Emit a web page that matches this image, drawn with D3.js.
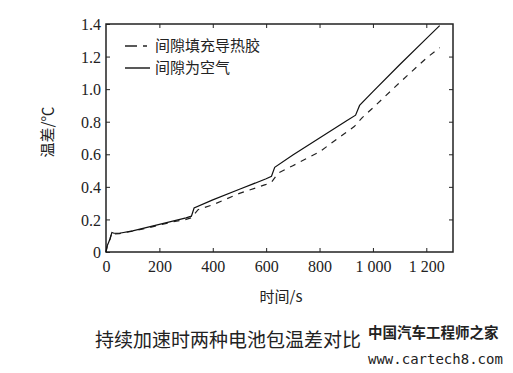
<!DOCTYPE html>
<html>
<head>
<meta charset="utf-8">
<script src="https://cdn.jsdelivr.net/npm/d3@7"></script>
<style>
  body { margin: 0; background: #fff; }
  svg text { fill: #222; }
  .tick text { font-family: "Liberation Serif", "DejaVu Serif", serif !important; font-size: 16px !important; }
</style>
</head>
<body>
<div id="chart"></div>
<script>
// values
const timeAir = [0, 5, 15, 22, 30, 50, 100, 150, 200, 250, 300, 320, 330, 400, 500, 600, 620, 632, 700, 800, 900, 935, 950, 1000, 1100, 1200, 1250];
const tempAir = [0, 0.04, 0.08, 0.12, 0.115, 0.115, 0.13, 0.15, 0.17, 0.19, 0.21, 0.22, 0.27, 0.32, 0.385, 0.45, 0.465, 0.52, 0.595, 0.70, 0.805, 0.84, 0.90, 0.985, 1.15, 1.31, 1.39];

const timeGel = [0, 5, 15, 22, 30, 50, 100, 150, 200, 250, 300, 320, 345, 400, 500, 600, 620, 645, 700, 800, 900, 930, 960, 1000, 1100, 1200, 1250];
const tempGel = [0, 0.04, 0.08, 0.12, 0.11, 0.113, 0.128, 0.145, 0.165, 0.185, 0.2, 0.21, 0.26, 0.29, 0.36, 0.415, 0.428, 0.485, 0.53, 0.615, 0.735, 0.77, 0.825, 0.885, 1.04, 1.19, 1.255];

const xTicks = [0, 200, 400, 600, 800, 1000, 1200];
const yTicks = [0, 0.2, 0.4, 0.6, 0.8, 1.0, 1.2, 1.4];
const legendNames = ["间隙填充导热胶", "间隙为空气"];

const W = 513, H = 373;
const margin = { top: 24, right: 60, bottom: 121, left: 106 };
const iw = W - margin.left - margin.right;
const ih = H - margin.top - margin.bottom;

const svg = d3.select("#chart").append("svg")
    .attr("width", W)
    .attr("height", H);

const g = svg.append("g").attr("transform", `translate(${margin.left},${margin.top})`);

const x = d3.scaleLinear().domain([0, 1300]).range([0, iw]);
const y = d3.scaleLinear().domain([0, 1.4]).range([ih, 0]);

const cjk = "'Noto Sans CJK SC', sans-serif";

const fmtX = d => d >= 1000 ? "1 " + String(d).slice(1) : String(d);
const fmtY = d => d === 0 ? "0" : d.toFixed(1);

// axes - all ticks point inside the box
const xAxis = g.append("g").attr("transform", `translate(0,${ih})`)
    .call(d3.axisBottom(x).tickValues(xTicks).tickFormat(fmtX).tickSizeInner(-4).tickSizeOuter(0).tickPadding(9));
const yAxis = g.append("g")
    .call(d3.axisLeft(y).tickValues(yTicks).tickFormat(fmtY).tickSizeInner(-4).tickSizeOuter(0).tickPadding(5));
g.append("g")
    .call(d3.axisTop(x).tickValues(xTicks.slice(1)).tickFormat("").tickSizeInner(-4).tickSizeOuter(0));
g.append("g").attr("transform", `translate(${iw},0)`)
    .call(d3.axisRight(y).tickValues(yTicks.slice(1, -1)).tickFormat("").tickSizeInner(-4).tickSizeOuter(0));

g.selectAll(".domain").remove();
g.selectAll(".tick line").attr("stroke", "#222").attr("stroke-width", 1);
xAxis.attr("font-family", "Liberation Serif").attr("font-size", 16);
yAxis.attr("font-family", "Liberation Serif").attr("font-size", 16);
g.selectAll(".tick text").attr("fill", "#222");
yAxis.selectAll(".tick text").attr("dy", "0.35em");

g.append("rect")
    .attr("width", iw).attr("height", ih)
    .attr("fill", "none").attr("stroke", "#222").attr("stroke-width", 1.5);

const line = d3.line().x(d => x(d[0])).y(d => y(d[1]));

g.append("path")
    .datum(d3.zip(timeGel, tempGel))
    .attr("d", line)
    .attr("fill", "none").attr("stroke", "#222").attr("stroke-width", 1.2)
    .attr("stroke-dasharray", "6,6");

g.append("path")
    .datum(d3.zip(timeAir, tempAir))
    .attr("d", line)
    .attr("fill", "none").attr("stroke", "#111").attr("stroke-width", 1.2);

// legend
const leg = g.append("g").attr("transform", "translate(19,22)");
leg.append("line").attr("x1", 0).attr("x2", 12).attr("y1", 0).attr("y2", 0)
    .attr("stroke", "#222").attr("stroke-width", 1.5);
leg.append("line").attr("x1", 18).attr("x2", 22).attr("y1", 0).attr("y2", 0)
    .attr("stroke", "#222").attr("stroke-width", 1.5);
leg.append("line").attr("x1", 0).attr("x2", 25).attr("y1", 22).attr("y2", 22)
    .attr("stroke", "#222").attr("stroke-width", 1.5);
leg.selectAll("text").data(legendNames).join("text")
    .attr("x", 30).attr("y", (d, i) => i * 22)
    .attr("dy", "0.35em")
    .attr("font-family", cjk).attr("font-size", 15)
    .text(d => d);

// axis titles
svg.append("text")
    .attr("transform", `translate(48,${margin.top + ih / 2 - 6}) rotate(-90)`)
    .attr("text-anchor", "middle").attr("dy", "0.35em")
    .attr("font-family", cjk).attr("font-size", 15)
    .text("温差/℃");

svg.append("text")
    .attr("x", 281).attr("y", 297)
    .attr("text-anchor", "middle").attr("dy", "0.35em")
    .attr("font-family", cjk).attr("font-size", 15)
    .text("时间/s");

// caption
svg.append("text")
    .attr("x", 95).attr("y", 340)
    .attr("dy", "0.35em")
    .attr("font-family", cjk).attr("font-size", 19)
    .attr("fill", "#333")
    .text("持续加速时两种电池包温差对比");

// watermark
svg.append("text")
    .attr("x", 368).attr("y", 333)
    .attr("dy", "0.35em")
    .attr("font-family", cjk).attr("font-size", 14.5).attr("font-weight", "bold")
    .text("中国汽车工程师之家");
svg.append("text")
    .attr("x", 368).attr("y", 359)
    .attr("dy", "0.35em")
    .attr("font-family", "'DejaVu Sans Mono', monospace").attr("font-size", 14)
    .attr("fill", "#333")
    .text("www.cartech8.com");
</script>
</body>
</html>
